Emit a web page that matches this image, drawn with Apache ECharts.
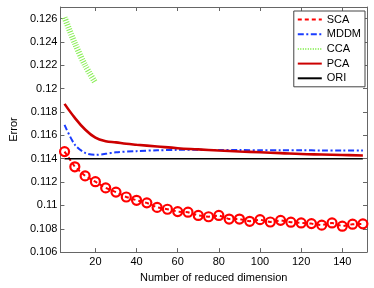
<!DOCTYPE html>
<html>
<head>
<meta charset="utf-8">
<script src="https://cdn.jsdelivr.net/npm/echarts@6/dist/echarts.min.js"></script>
<style>html,body{margin:0;padding:0;background:#fff;}#c{width:374px;height:288px;}</style>
</head>
<body>
<div id="c"></div>
<script>
const xTicks = [20, 40, 60, 80, 100, 120, 140];
const yTicks = [0.106, 0.108, 0.11, 0.112, 0.114, 0.116, 0.118, 0.12, 0.122, 0.124, 0.126];

const scaX = [5,10,15,20,25,30,35,40,45,50,55,60,65,70,75,80,85,90,95,100,105,110,115,120,125,130,135,140,145,150];
const scaY = [0.11461,0.11331,0.11253,0.11203,0.1115,0.11114,0.11072,0.11044,0.11022,0.10983,0.10967,0.10947,0.10942,0.10914,0.10903,0.10914,0.10883,0.10883,0.10864,0.10878,0.10858,0.10872,0.10856,0.1085,0.10844,0.10831,0.1085,0.10822,0.10839,0.10842];

const mddmX = [5,10,15,20,25,30,40,50,60,70,80,90,100,110,120,130,140,150];
const mddmY = [0.1169,0.1152,0.1145,0.11433,0.11442,0.11455,0.11465,0.11472,0.11476,0.11476,0.11475,0.11474,0.11473,0.11472,0.11472,0.11471,0.1147,0.1147];

const ccaX = [5,10,15,20];
const ccaY = [0.1261,0.1239,0.1220,0.1205];

const pcaX = [5,10,15,20,25,30,35,40,50,60,70,80,90,100,110,120,130,140,150];
const pcaY = [0.1187,0.1175,0.1165,0.1158,0.1155,0.1154,0.11528,0.1152,0.11505,0.1149,0.1148,0.1147,0.11462,0.11455,0.11448,0.1144,0.11436,0.11432,0.11428];

const oriX = [5,150];
const oriY = [0.114,0.114];

const zip = (xs, ys) => xs.map((x, i) => [x, ys[i]]);
const FONT = '"Liberation Sans", Arial, Helvetica, sans-serif';
const axisCol = '#666';

const chart = echarts.init(document.getElementById('c'), null, {renderer: 'canvas'});
chart.setOption({
  animation: false,
  backgroundColor: '#fff',
  grid: {left: 50, right: 7, top: 7, bottom: 29, containLabel: false},
  xAxis: [{
    type: 'value', min: 3, max: 152, position: 'bottom',
    name: 'Number of reduced dimension', nameLocation: 'middle', nameGap: 15,
    nameTextStyle: {fontFamily: FONT, fontSize: 11, color: '#000'},
    axisLine: {show: true, lineStyle: {color: axisCol, width: 1}},
    axisTick: {show: true, inside: true, length: 4, customValues: xTicks, lineStyle: {color: axisCol}},
    axisLabel: {show: true, margin: 4, customValues: xTicks, fontFamily: FONT, fontSize: 11, color: '#000'},
    splitLine: {show: false}
  }, {
    type: 'value', min: 3, max: 152, position: 'top',
    axisLine: {show: true, lineStyle: {color: axisCol, width: 1}},
    axisTick: {show: true, inside: true, length: 4, customValues: xTicks, lineStyle: {color: axisCol}},
    axisLabel: {show: false},
    splitLine: {show: false}
  }],
  yAxis: [{
    type: 'value', min: 0.106, max: 0.127, position: 'left',
    name: 'Error', nameLocation: 'middle', nameGap: 37, nameRotate: 90,
    nameTextStyle: {fontFamily: FONT, fontSize: 11, color: '#000'},
    axisLine: {show: true, lineStyle: {color: axisCol, width: 1}},
    axisTick: {show: true, inside: true, length: 4, customValues: yTicks, lineStyle: {color: axisCol}},
    axisLabel: {show: true, margin: 3, customValues: yTicks, fontFamily: FONT, fontSize: 11, color: '#000',
      formatter: v => String(parseFloat(v.toFixed(3)))},
    splitLine: {show: false}
  }, {
    type: 'value', min: 0.106, max: 0.127, position: 'right',
    axisLine: {show: true, lineStyle: {color: axisCol, width: 1}},
    axisTick: {show: true, inside: true, length: 4, customValues: yTicks, lineStyle: {color: axisCol}},
    axisLabel: {show: false},
    splitLine: {show: false}
  }],
  legend: {
    orient: 'vertical', right: 9, top: 11,
    padding: [3, 4, 3, 3],
    itemWidth: 24, itemHeight: 10, itemGap: 3.7, itemTextGap: 2,
    backgroundColor: '#fff', borderColor: '#444', borderWidth: 1, borderRadius: 0,
    itemStyle: {opacity: 0},
    textStyle: {fontFamily: FONT, fontSize: 11, color: '#000', lineHeight: 10},
    data: ['SCA', 'MDDM', 'CCA', 'PCA', 'ORI']
  },
  series: [{
    name: 'SCA', type: 'line', data: zip(scaX, scaY),
    symbol: 'circle', symbolSize: 9, showSymbol: true,
    itemStyle: {color: 'rgba(255,255,255,0)', borderColor: '#ff0000', borderWidth: 2.2},
    lineStyle: {color: '#ff0000', width: 2, type: [4, 3]},
    z: 2
  }, {
    name: 'MDDM', type: 'line', data: zip(mddmX, mddmY), symbol: 'none', smooth: 0.3,
    itemStyle: {color: '#0000ff'},
    lineStyle: {color: '#1a3cff', width: 2, type: [6, 2.5, 2, 2.5]},
    z: 3
  }, {
    name: 'CCA', type: 'line', data: zip(ccaX, ccaY), symbol: 'none', smooth: 0.3,
    itemStyle: {color: '#88ee55'},
    lineStyle: {color: '#88ee55', width: 6, type: [1, 1.5]},
    z: 4
  }, {
    name: 'PCA', type: 'line', data: zip(pcaX, pcaY), symbol: 'none', smooth: 0.4,
    itemStyle: {color: '#cc0000'},
    lineStyle: {color: '#cc0000', width: 2.6},
    z: 5
  }, {
    name: 'ORI', type: 'line', data: zip(oriX, oriY), symbol: 'none',
    itemStyle: {color: '#000'},
    lineStyle: {color: '#000', width: 1.3},
    z: 6
  }]
});
</script>
</body>
</html>
